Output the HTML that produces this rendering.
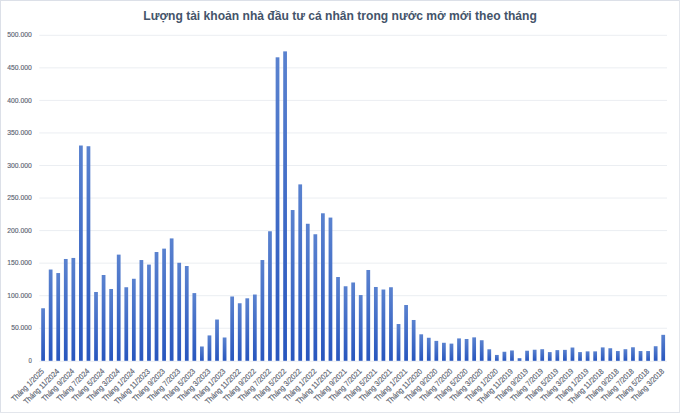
<!DOCTYPE html>
<html><head><meta charset="utf-8"><style>
html,body{margin:0;padding:0;background:#fff;}
body{width:680px;height:413px;overflow:hidden;position:relative;}
svg{display:block;position:absolute;left:0;top:0;}
text{font-family:"Liberation Sans",sans-serif;}
</style></head><body>
<svg width="680" height="413" viewBox="0 0 680 413">
<defs>
<linearGradient id="g" x1="0" y1="0" x2="0" y2="1">
<stop offset="0" stop-color="#5A82CF"/>
<stop offset="1" stop-color="#2856BE"/>
</linearGradient>
</defs>
<rect x="0" y="0" width="680" height="413" fill="#fff"/>

<rect x="0" y="0" width="680" height="1" fill="#DCE0E8"/><rect x="0" y="0" width="1" height="413" fill="#DCE0E8"/><rect x="679" y="0" width="1" height="413" fill="#E3E6EC"/><rect x="0" y="412" width="680" height="1" fill="#E3E6EC"/>
<text x="143.3" y="20.3" font-size="12.3" font-weight="bold" fill="#44546A" textLength="393.5" lengthAdjust="spacingAndGlyphs">Lượng tài khoản nhà đầu tư cá nhân trong nước mở mới theo tháng</text>
<line x1="39.30" x2="667.00" y1="328.25" y2="328.25" stroke="#EBEEF2" stroke-width="1"/>
<line x1="39.30" x2="667.00" y1="295.70" y2="295.70" stroke="#EBEEF2" stroke-width="1"/>
<line x1="39.30" x2="667.00" y1="263.15" y2="263.15" stroke="#EBEEF2" stroke-width="1"/>
<line x1="39.30" x2="667.00" y1="230.60" y2="230.60" stroke="#EBEEF2" stroke-width="1"/>
<line x1="39.30" x2="667.00" y1="198.05" y2="198.05" stroke="#EBEEF2" stroke-width="1"/>
<line x1="39.30" x2="667.00" y1="165.50" y2="165.50" stroke="#EBEEF2" stroke-width="1"/>
<line x1="39.30" x2="667.00" y1="132.95" y2="132.95" stroke="#EBEEF2" stroke-width="1"/>
<line x1="39.30" x2="667.00" y1="100.40" y2="100.40" stroke="#EBEEF2" stroke-width="1"/>
<line x1="39.30" x2="667.00" y1="67.85" y2="67.85" stroke="#EBEEF2" stroke-width="1"/>
<line x1="39.30" x2="667.00" y1="35.30" y2="35.30" stroke="#EBEEF2" stroke-width="1"/>
<line x1="39.30" x2="667.00" y1="361.3" y2="361.3" stroke="#ECEEF2" stroke-width="1"/>
<text x="31.8" y="362.90" font-size="8" fill="#5A6270" stroke="#5A6270" stroke-width="0.15" text-anchor="end" textLength="3.35" lengthAdjust="spacingAndGlyphs">0</text>
<text x="31.8" y="330.35" font-size="8" fill="#5A6270" stroke="#5A6270" stroke-width="0.15" text-anchor="end" textLength="20.65" lengthAdjust="spacingAndGlyphs">50.000</text>
<text x="31.8" y="297.80" font-size="8" fill="#5A6270" stroke="#5A6270" stroke-width="0.15" text-anchor="end" textLength="24.50" lengthAdjust="spacingAndGlyphs">100.000</text>
<text x="31.8" y="265.25" font-size="8" fill="#5A6270" stroke="#5A6270" stroke-width="0.15" text-anchor="end" textLength="24.50" lengthAdjust="spacingAndGlyphs">150.000</text>
<text x="31.8" y="232.70" font-size="8" fill="#5A6270" stroke="#5A6270" stroke-width="0.15" text-anchor="end" textLength="24.50" lengthAdjust="spacingAndGlyphs">200.000</text>
<text x="31.8" y="200.15" font-size="8" fill="#5A6270" stroke="#5A6270" stroke-width="0.15" text-anchor="end" textLength="24.50" lengthAdjust="spacingAndGlyphs">250.000</text>
<text x="31.8" y="167.60" font-size="8" fill="#5A6270" stroke="#5A6270" stroke-width="0.15" text-anchor="end" textLength="24.50" lengthAdjust="spacingAndGlyphs">300.000</text>
<text x="31.8" y="135.05" font-size="8" fill="#5A6270" stroke="#5A6270" stroke-width="0.15" text-anchor="end" textLength="24.50" lengthAdjust="spacingAndGlyphs">350.000</text>
<text x="31.8" y="102.50" font-size="8" fill="#5A6270" stroke="#5A6270" stroke-width="0.15" text-anchor="end" textLength="24.50" lengthAdjust="spacingAndGlyphs">400.000</text>
<text x="31.8" y="69.95" font-size="8" fill="#5A6270" stroke="#5A6270" stroke-width="0.15" text-anchor="end" textLength="24.50" lengthAdjust="spacingAndGlyphs">450.000</text>
<text x="31.8" y="37.40" font-size="8" fill="#5A6270" stroke="#5A6270" stroke-width="0.15" text-anchor="end" textLength="24.50" lengthAdjust="spacingAndGlyphs">500.000</text>
<rect x="41.21" y="308.26" width="3.75" height="52.54" fill="url(#g)"/>
<rect x="48.77" y="269.53" width="3.75" height="91.27" fill="url(#g)"/>
<rect x="56.33" y="273.05" width="3.75" height="87.75" fill="url(#g)"/>
<rect x="63.89" y="258.98" width="3.75" height="101.82" fill="url(#g)"/>
<rect x="71.46" y="257.94" width="3.75" height="102.86" fill="url(#g)"/>
<rect x="79.02" y="145.51" width="3.75" height="215.29" fill="url(#g)"/>
<rect x="86.58" y="146.23" width="3.75" height="214.57" fill="url(#g)"/>
<rect x="94.14" y="291.99" width="3.75" height="68.81" fill="url(#g)"/>
<rect x="101.71" y="275.00" width="3.75" height="85.80" fill="url(#g)"/>
<rect x="109.27" y="288.99" width="3.75" height="71.81" fill="url(#g)"/>
<rect x="116.83" y="254.62" width="3.75" height="106.18" fill="url(#g)"/>
<rect x="124.40" y="287.24" width="3.75" height="73.56" fill="url(#g)"/>
<rect x="131.96" y="278.77" width="3.75" height="82.03" fill="url(#g)"/>
<rect x="139.52" y="260.03" width="3.75" height="100.77" fill="url(#g)"/>
<rect x="147.08" y="264.58" width="3.75" height="96.22" fill="url(#g)"/>
<rect x="154.65" y="252.02" width="3.75" height="108.78" fill="url(#g)"/>
<rect x="162.21" y="248.63" width="3.75" height="112.17" fill="url(#g)"/>
<rect x="169.77" y="238.41" width="3.75" height="122.39" fill="url(#g)"/>
<rect x="177.33" y="262.76" width="3.75" height="98.04" fill="url(#g)"/>
<rect x="184.90" y="266.01" width="3.75" height="94.79" fill="url(#g)"/>
<rect x="192.46" y="293.10" width="3.75" height="67.70" fill="url(#g)"/>
<rect x="200.02" y="346.48" width="3.75" height="14.32" fill="url(#g)"/>
<rect x="207.58" y="335.41" width="3.75" height="25.39" fill="url(#g)"/>
<rect x="215.15" y="319.53" width="3.75" height="41.27" fill="url(#g)"/>
<rect x="222.71" y="337.49" width="3.75" height="23.31" fill="url(#g)"/>
<rect x="230.27" y="296.48" width="3.75" height="64.32" fill="url(#g)"/>
<rect x="237.84" y="303.25" width="3.75" height="57.55" fill="url(#g)"/>
<rect x="245.40" y="298.30" width="3.75" height="62.50" fill="url(#g)"/>
<rect x="252.96" y="294.53" width="3.75" height="66.27" fill="url(#g)"/>
<rect x="260.52" y="260.03" width="3.75" height="100.77" fill="url(#g)"/>
<rect x="268.09" y="231.25" width="3.75" height="129.55" fill="url(#g)"/>
<rect x="275.65" y="57.30" width="3.75" height="303.50" fill="url(#g)"/>
<rect x="283.21" y="51.38" width="3.75" height="309.42" fill="url(#g)"/>
<rect x="290.77" y="210.03" width="3.75" height="150.77" fill="url(#g)"/>
<rect x="298.34" y="184.38" width="3.75" height="176.42" fill="url(#g)"/>
<rect x="305.90" y="223.76" width="3.75" height="137.04" fill="url(#g)"/>
<rect x="313.46" y="234.25" width="3.75" height="126.55" fill="url(#g)"/>
<rect x="321.02" y="213.28" width="3.75" height="147.52" fill="url(#g)"/>
<rect x="328.59" y="217.58" width="3.75" height="143.22" fill="url(#g)"/>
<rect x="336.15" y="277.02" width="3.75" height="83.78" fill="url(#g)"/>
<rect x="343.71" y="286.26" width="3.75" height="74.54" fill="url(#g)"/>
<rect x="351.28" y="282.48" width="3.75" height="78.32" fill="url(#g)"/>
<rect x="358.84" y="295.05" width="3.75" height="65.75" fill="url(#g)"/>
<rect x="366.40" y="269.99" width="3.75" height="90.81" fill="url(#g)"/>
<rect x="373.96" y="286.98" width="3.75" height="73.82" fill="url(#g)"/>
<rect x="381.53" y="289.52" width="3.75" height="71.28" fill="url(#g)"/>
<rect x="389.09" y="287.24" width="3.75" height="73.56" fill="url(#g)"/>
<rect x="396.65" y="324.02" width="3.75" height="36.78" fill="url(#g)"/>
<rect x="404.21" y="305.01" width="3.75" height="55.79" fill="url(#g)"/>
<rect x="411.78" y="319.98" width="3.75" height="40.82" fill="url(#g)"/>
<rect x="419.34" y="334.30" width="3.75" height="26.50" fill="url(#g)"/>
<rect x="426.90" y="337.75" width="3.75" height="23.05" fill="url(#g)"/>
<rect x="434.46" y="340.88" width="3.75" height="19.92" fill="url(#g)"/>
<rect x="442.03" y="342.77" width="3.75" height="18.03" fill="url(#g)"/>
<rect x="449.59" y="343.61" width="3.75" height="17.19" fill="url(#g)"/>
<rect x="457.15" y="338.41" width="3.75" height="22.39" fill="url(#g)"/>
<rect x="464.71" y="338.99" width="3.75" height="21.81" fill="url(#g)"/>
<rect x="472.28" y="337.36" width="3.75" height="23.44" fill="url(#g)"/>
<rect x="479.84" y="340.23" width="3.75" height="20.57" fill="url(#g)"/>
<rect x="487.40" y="349.28" width="3.75" height="11.52" fill="url(#g)"/>
<rect x="494.97" y="354.94" width="3.75" height="5.86" fill="url(#g)"/>
<rect x="502.53" y="351.75" width="3.75" height="9.05" fill="url(#g)"/>
<rect x="510.09" y="350.45" width="3.75" height="10.35" fill="url(#g)"/>
<rect x="517.65" y="358.13" width="3.75" height="2.67" fill="url(#g)"/>
<rect x="525.22" y="350.71" width="3.75" height="10.09" fill="url(#g)"/>
<rect x="532.78" y="349.73" width="3.75" height="11.07" fill="url(#g)"/>
<rect x="540.34" y="349.21" width="3.75" height="11.59" fill="url(#g)"/>
<rect x="547.90" y="352.08" width="3.75" height="8.72" fill="url(#g)"/>
<rect x="555.47" y="350.12" width="3.75" height="10.68" fill="url(#g)"/>
<rect x="563.03" y="349.86" width="3.75" height="10.94" fill="url(#g)"/>
<rect x="570.59" y="347.52" width="3.75" height="13.28" fill="url(#g)"/>
<rect x="578.15" y="352.08" width="3.75" height="8.72" fill="url(#g)"/>
<rect x="585.72" y="351.36" width="3.75" height="9.44" fill="url(#g)"/>
<rect x="593.28" y="351.36" width="3.75" height="9.44" fill="url(#g)"/>
<rect x="600.84" y="347.39" width="3.75" height="13.41" fill="url(#g)"/>
<rect x="608.41" y="348.24" width="3.75" height="12.56" fill="url(#g)"/>
<rect x="615.97" y="351.04" width="3.75" height="9.77" fill="url(#g)"/>
<rect x="623.53" y="349.21" width="3.75" height="11.59" fill="url(#g)"/>
<rect x="631.09" y="347.26" width="3.75" height="13.54" fill="url(#g)"/>
<rect x="638.66" y="351.04" width="3.75" height="9.77" fill="url(#g)"/>
<rect x="646.22" y="351.04" width="3.75" height="9.77" fill="url(#g)"/>
<rect x="653.78" y="346.22" width="3.75" height="14.58" fill="url(#g)"/>
<rect x="661.34" y="334.83" width="3.75" height="25.97" fill="url(#g)"/>
<text transform="translate(44.58,371.9) rotate(-45)" font-size="7.8" fill="#5A6270" stroke="#5A6270" stroke-width="0.15" text-anchor="end" textLength="42.65" lengthAdjust="spacingAndGlyphs">Tháng 1/2025</text>
<text transform="translate(59.71,371.9) rotate(-45)" font-size="7.8" fill="#5A6270" stroke="#5A6270" stroke-width="0.15" text-anchor="end" textLength="46.61" lengthAdjust="spacingAndGlyphs">Tháng 11/2024</text>
<text transform="translate(74.83,371.9) rotate(-45)" font-size="7.8" fill="#5A6270" stroke="#5A6270" stroke-width="0.15" text-anchor="end" textLength="42.65" lengthAdjust="spacingAndGlyphs">Tháng 9/2024</text>
<text transform="translate(89.96,371.9) rotate(-45)" font-size="7.8" fill="#5A6270" stroke="#5A6270" stroke-width="0.15" text-anchor="end" textLength="42.65" lengthAdjust="spacingAndGlyphs">Tháng 7/2024</text>
<text transform="translate(105.08,371.9) rotate(-45)" font-size="7.8" fill="#5A6270" stroke="#5A6270" stroke-width="0.15" text-anchor="end" textLength="42.65" lengthAdjust="spacingAndGlyphs">Tháng 5/2024</text>
<text transform="translate(120.21,371.9) rotate(-45)" font-size="7.8" fill="#5A6270" stroke="#5A6270" stroke-width="0.15" text-anchor="end" textLength="42.65" lengthAdjust="spacingAndGlyphs">Tháng 3/2024</text>
<text transform="translate(135.33,371.9) rotate(-45)" font-size="7.8" fill="#5A6270" stroke="#5A6270" stroke-width="0.15" text-anchor="end" textLength="42.65" lengthAdjust="spacingAndGlyphs">Tháng 1/2024</text>
<text transform="translate(150.46,371.9) rotate(-45)" font-size="7.8" fill="#5A6270" stroke="#5A6270" stroke-width="0.15" text-anchor="end" textLength="46.61" lengthAdjust="spacingAndGlyphs">Tháng 11/2023</text>
<text transform="translate(165.58,371.9) rotate(-45)" font-size="7.8" fill="#5A6270" stroke="#5A6270" stroke-width="0.15" text-anchor="end" textLength="42.65" lengthAdjust="spacingAndGlyphs">Tháng 9/2023</text>
<text transform="translate(180.71,371.9) rotate(-45)" font-size="7.8" fill="#5A6270" stroke="#5A6270" stroke-width="0.15" text-anchor="end" textLength="42.65" lengthAdjust="spacingAndGlyphs">Tháng 7/2023</text>
<text transform="translate(195.83,371.9) rotate(-45)" font-size="7.8" fill="#5A6270" stroke="#5A6270" stroke-width="0.15" text-anchor="end" textLength="42.65" lengthAdjust="spacingAndGlyphs">Tháng 5/2023</text>
<text transform="translate(210.96,371.9) rotate(-45)" font-size="7.8" fill="#5A6270" stroke="#5A6270" stroke-width="0.15" text-anchor="end" textLength="42.65" lengthAdjust="spacingAndGlyphs">Tháng 3/2023</text>
<text transform="translate(226.08,371.9) rotate(-45)" font-size="7.8" fill="#5A6270" stroke="#5A6270" stroke-width="0.15" text-anchor="end" textLength="42.65" lengthAdjust="spacingAndGlyphs">Tháng 1/2023</text>
<text transform="translate(241.21,371.9) rotate(-45)" font-size="7.8" fill="#5A6270" stroke="#5A6270" stroke-width="0.15" text-anchor="end" textLength="46.61" lengthAdjust="spacingAndGlyphs">Tháng 11/2022</text>
<text transform="translate(256.34,371.9) rotate(-45)" font-size="7.8" fill="#5A6270" stroke="#5A6270" stroke-width="0.15" text-anchor="end" textLength="42.65" lengthAdjust="spacingAndGlyphs">Tháng 9/2022</text>
<text transform="translate(271.46,371.9) rotate(-45)" font-size="7.8" fill="#5A6270" stroke="#5A6270" stroke-width="0.15" text-anchor="end" textLength="42.65" lengthAdjust="spacingAndGlyphs">Tháng 7/2022</text>
<text transform="translate(286.59,371.9) rotate(-45)" font-size="7.8" fill="#5A6270" stroke="#5A6270" stroke-width="0.15" text-anchor="end" textLength="42.65" lengthAdjust="spacingAndGlyphs">Tháng 5/2022</text>
<text transform="translate(301.71,371.9) rotate(-45)" font-size="7.8" fill="#5A6270" stroke="#5A6270" stroke-width="0.15" text-anchor="end" textLength="42.65" lengthAdjust="spacingAndGlyphs">Tháng 3/2022</text>
<text transform="translate(316.84,371.9) rotate(-45)" font-size="7.8" fill="#5A6270" stroke="#5A6270" stroke-width="0.15" text-anchor="end" textLength="42.65" lengthAdjust="spacingAndGlyphs">Tháng 1/2022</text>
<text transform="translate(331.96,371.9) rotate(-45)" font-size="7.8" fill="#5A6270" stroke="#5A6270" stroke-width="0.15" text-anchor="end" textLength="46.61" lengthAdjust="spacingAndGlyphs">Tháng 11/2021</text>
<text transform="translate(347.09,371.9) rotate(-45)" font-size="7.8" fill="#5A6270" stroke="#5A6270" stroke-width="0.15" text-anchor="end" textLength="42.65" lengthAdjust="spacingAndGlyphs">Tháng 9/2021</text>
<text transform="translate(362.21,371.9) rotate(-45)" font-size="7.8" fill="#5A6270" stroke="#5A6270" stroke-width="0.15" text-anchor="end" textLength="42.65" lengthAdjust="spacingAndGlyphs">Tháng 7/2021</text>
<text transform="translate(377.34,371.9) rotate(-45)" font-size="7.8" fill="#5A6270" stroke="#5A6270" stroke-width="0.15" text-anchor="end" textLength="42.65" lengthAdjust="spacingAndGlyphs">Tháng 5/2021</text>
<text transform="translate(392.46,371.9) rotate(-45)" font-size="7.8" fill="#5A6270" stroke="#5A6270" stroke-width="0.15" text-anchor="end" textLength="42.65" lengthAdjust="spacingAndGlyphs">Tháng 3/2021</text>
<text transform="translate(407.59,371.9) rotate(-45)" font-size="7.8" fill="#5A6270" stroke="#5A6270" stroke-width="0.15" text-anchor="end" textLength="42.65" lengthAdjust="spacingAndGlyphs">Tháng 1/2021</text>
<text transform="translate(422.71,371.9) rotate(-45)" font-size="7.8" fill="#5A6270" stroke="#5A6270" stroke-width="0.15" text-anchor="end" textLength="46.61" lengthAdjust="spacingAndGlyphs">Tháng 11/2020</text>
<text transform="translate(437.84,371.9) rotate(-45)" font-size="7.8" fill="#5A6270" stroke="#5A6270" stroke-width="0.15" text-anchor="end" textLength="42.65" lengthAdjust="spacingAndGlyphs">Tháng 9/2020</text>
<text transform="translate(452.96,371.9) rotate(-45)" font-size="7.8" fill="#5A6270" stroke="#5A6270" stroke-width="0.15" text-anchor="end" textLength="42.65" lengthAdjust="spacingAndGlyphs">Tháng 7/2020</text>
<text transform="translate(468.09,371.9) rotate(-45)" font-size="7.8" fill="#5A6270" stroke="#5A6270" stroke-width="0.15" text-anchor="end" textLength="42.65" lengthAdjust="spacingAndGlyphs">Tháng 5/2020</text>
<text transform="translate(483.22,371.9) rotate(-45)" font-size="7.8" fill="#5A6270" stroke="#5A6270" stroke-width="0.15" text-anchor="end" textLength="42.65" lengthAdjust="spacingAndGlyphs">Tháng 3/2020</text>
<text transform="translate(498.34,371.9) rotate(-45)" font-size="7.8" fill="#5A6270" stroke="#5A6270" stroke-width="0.15" text-anchor="end" textLength="42.65" lengthAdjust="spacingAndGlyphs">Tháng 1/2020</text>
<text transform="translate(513.47,371.9) rotate(-45)" font-size="7.8" fill="#5A6270" stroke="#5A6270" stroke-width="0.15" text-anchor="end" textLength="46.61" lengthAdjust="spacingAndGlyphs">Tháng 11/2019</text>
<text transform="translate(528.59,371.9) rotate(-45)" font-size="7.8" fill="#5A6270" stroke="#5A6270" stroke-width="0.15" text-anchor="end" textLength="42.65" lengthAdjust="spacingAndGlyphs">Tháng 9/2019</text>
<text transform="translate(543.72,371.9) rotate(-45)" font-size="7.8" fill="#5A6270" stroke="#5A6270" stroke-width="0.15" text-anchor="end" textLength="42.65" lengthAdjust="spacingAndGlyphs">Tháng 7/2019</text>
<text transform="translate(558.84,371.9) rotate(-45)" font-size="7.8" fill="#5A6270" stroke="#5A6270" stroke-width="0.15" text-anchor="end" textLength="42.65" lengthAdjust="spacingAndGlyphs">Tháng 5/2019</text>
<text transform="translate(573.97,371.9) rotate(-45)" font-size="7.8" fill="#5A6270" stroke="#5A6270" stroke-width="0.15" text-anchor="end" textLength="42.65" lengthAdjust="spacingAndGlyphs">Tháng 3/2019</text>
<text transform="translate(589.09,371.9) rotate(-45)" font-size="7.8" fill="#5A6270" stroke="#5A6270" stroke-width="0.15" text-anchor="end" textLength="42.65" lengthAdjust="spacingAndGlyphs">Tháng 1/2019</text>
<text transform="translate(604.22,371.9) rotate(-45)" font-size="7.8" fill="#5A6270" stroke="#5A6270" stroke-width="0.15" text-anchor="end" textLength="46.61" lengthAdjust="spacingAndGlyphs">Tháng 11/2018</text>
<text transform="translate(619.34,371.9) rotate(-45)" font-size="7.8" fill="#5A6270" stroke="#5A6270" stroke-width="0.15" text-anchor="end" textLength="42.65" lengthAdjust="spacingAndGlyphs">Tháng 9/2018</text>
<text transform="translate(634.47,371.9) rotate(-45)" font-size="7.8" fill="#5A6270" stroke="#5A6270" stroke-width="0.15" text-anchor="end" textLength="42.65" lengthAdjust="spacingAndGlyphs">Tháng 7/2018</text>
<text transform="translate(649.59,371.9) rotate(-45)" font-size="7.8" fill="#5A6270" stroke="#5A6270" stroke-width="0.15" text-anchor="end" textLength="42.65" lengthAdjust="spacingAndGlyphs">Tháng 5/2018</text>
<text transform="translate(664.72,371.9) rotate(-45)" font-size="7.8" fill="#5A6270" stroke="#5A6270" stroke-width="0.15" text-anchor="end" textLength="42.65" lengthAdjust="spacingAndGlyphs">Tháng 3/2018</text>
</svg></body></html>
